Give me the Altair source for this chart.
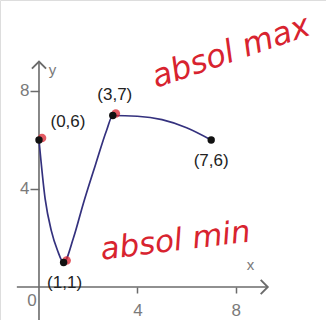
import altair as alt
import pandas as pd

# Curve f(x) sampled along the graph
curve_x = [0, 0.25, 0.5, 0.75, 1, 1.4, 1.8, 2.3, 2.75, 3, 4, 5, 6, 7]
curve_y = [6, 3.6, 2.3, 1.5, 1, 2.0, 3.4, 5.0, 6.4, 7, 6.97, 6.83, 6.5, 6]

# Marked points and their labels
pt_x = [0, 1, 3, 7]
pt_y = [6, 1, 7, 6]
pt_labels = ["(0,6)", "(1,1)", "(3,7)", "(7,6)"]
highlighted = [True, True, True, False]

# Tick values
x_ticks = [4, 8]
y_ticks = [4, 8]

# Handwritten notes
notes = ["absol max", "absol min"]

X_DOM = [-1.585, 11.667]
Y_DOM = [-1.347, 11.714]
W, H = 326, 320
AXIS_GRAY = "#6b6b6b"
LABEL_GRAY = "#7a7a7a"
RED = "#d8232f"

xs = alt.Scale(domain=X_DOM, nice=False, zero=False)
ys = alt.Scale(domain=Y_DOM, nice=False, zero=False)

curve_df = pd.DataFrame({"x": curve_x, "y": curve_y})
pts_df = pd.DataFrame({"x": pt_x, "y": pt_y, "label": pt_labels, "hl": highlighted})

# Axis lines with arrowheads (data units)
axes_df = pd.DataFrame({
    "x": [-0.9, 0.0], "x2": [9.3, 0.0],
    "y": [0.0, -1.35], "y2": [0.0, 9.2],
})
arrow_df = pd.DataFrame({"x": [9.3], "y": [0.0]})
arrow_up_df = pd.DataFrame({"x": [0.0], "y": [9.2]})

axis_x = alt.Axis(values=x_ticks, offset=-33, domain=False, grid=False, tickSize=6,
                  tickColor=AXIS_GRAY, tickWidth=1.5, labelColor=LABEL_GRAY,
                  labelFontSize=17, labelFont="Liberation Sans", labelPadding=9, title=None)
axis_y = alt.Axis(values=y_ticks, offset=-39, domain=False, grid=False, tickSize=9,
                  tickColor=AXIS_GRAY, tickWidth=1.5, labelColor=LABEL_GRAY,
                  labelFontSize=17, labelFont="Liberation Sans", labelPadding=1, title=None)

axes = alt.Chart(axes_df).mark_rule(color=AXIS_GRAY, strokeWidth=1.6).encode(
    x=alt.X("x:Q", scale=xs, axis=axis_x), x2="x2:Q",
    y=alt.Y("y:Q", scale=ys, axis=axis_y), y2="y2:Q",
)

arrow_right = alt.Chart(arrow_df).mark_point(
    shape="M-1,-1L0,0L-1,1", filled=False, size=200, stroke=AXIS_GRAY, strokeWidth=1.9, opacity=1
).encode(x=alt.X("x:Q", scale=xs), y=alt.Y("y:Q", scale=ys))

arrow_up = alt.Chart(arrow_up_df).mark_point(
    shape="M-1,1L0,0L1,1", filled=False, size=200, stroke=AXIS_GRAY, strokeWidth=1.9, opacity=1
).encode(x=alt.X("x:Q", scale=xs), y=alt.Y("y:Q", scale=ys))

axis_names = alt.Chart(pd.DataFrame({"x": [8.6, 0.55], "y": [0.9, 8.85], "t": ["x", "y"]})).mark_text(
    fontSize=15, font="Liberation Sans", color=LABEL_GRAY
).encode(x=alt.X("x:Q", scale=xs), y=alt.Y("y:Q", scale=ys), text="t:N")

origin = alt.Chart(pd.DataFrame({"x": [0], "y": [0], "t": ["0"]})).mark_text(
    fontSize=17, font="Liberation Sans", color=LABEL_GRAY, dx=-7, dy=14
).encode(x=alt.X("x:Q", scale=xs), y=alt.Y("y:Q", scale=ys), text="t:N")

line = alt.Chart(curve_df).mark_line(color="#34317e", strokeWidth=1.7, interpolate="monotone").encode(
    x=alt.X("x:Q", scale=xs), y=alt.Y("y:Q", scale=ys)
)

red_dots = alt.Chart(pts_df).transform_filter("datum.hl").mark_circle(
    color=RED, size=75, opacity=0.75
).encode(x=alt.X("x:Q", scale=xs), y=alt.Y("y:Q", scale=ys), xOffset=alt.value(3), yOffset=alt.value(-2))

dots = alt.Chart(pts_df).mark_circle(color="#111111", size=55, opacity=1).encode(
    x=alt.X("x:Q", scale=xs), y=alt.Y("y:Q", scale=ys)
)

# Label offsets (pixels) relative to each point
label_offsets = {"(0,6)": (29, -18), "(1,1)": (1, 21), "(3,7)": (2, -20), "(7,6)": (0, 21)}
label_layers = []
for lab, (ddx, ddy) in label_offsets.items():
    label_layers.append(
        alt.Chart(pts_df).transform_filter(alt.datum.label == lab).mark_text(
            fontSize=17, font="Liberation Sans", color="#222222", dx=ddx, dy=ddy
        ).encode(x=alt.X("x:Q", scale=xs), y=alt.Y("y:Q", scale=ys), text="label:N")
    )

note_max = alt.Chart(pd.DataFrame({"x": [7.8], "y": [9.6], "t": [notes[0]]})).mark_text(
    fontSize=32, font="DejaVu Sans", fontStyle="italic", color=RED, angle=341
).encode(x=alt.X("x:Q", scale=xs), y=alt.Y("y:Q", scale=ys), text="t:N")

note_min = alt.Chart(pd.DataFrame({"x": [5.55], "y": [1.85], "t": [notes[1]]})).mark_text(
    fontSize=31, font="DejaVu Sans", fontStyle="italic", color=RED, angle=353
).encode(x=alt.X("x:Q", scale=xs), y=alt.Y("y:Q", scale=ys), text="t:N")

chart = alt.layer(
    axes, arrow_right, arrow_up, axis_names, origin, line, red_dots, dots,
    *label_layers, note_max, note_min
).properties(
    width=W, height=H, padding=0, autosize=alt.AutoSizeParams(type="none")
).configure_view(stroke=None).configure(background="white")

chart.save("out.html", embed_options={"renderer": "svg", "actions": False})
